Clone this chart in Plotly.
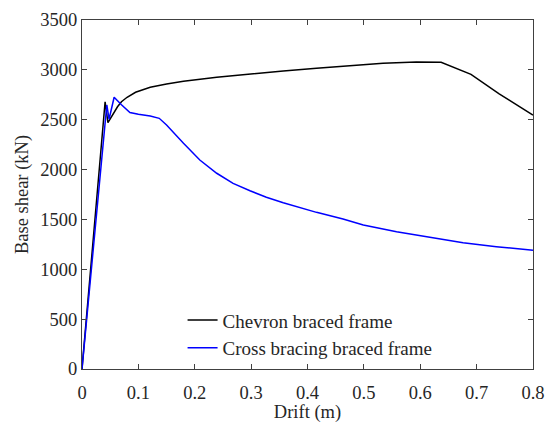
import plotly.graph_objects as go

# Pushover curves: roof drift (m) vs base shear (kN)
chevron_drift = [0.0, 0.041, 0.046, 0.055, 0.063, 0.070, 0.080, 0.095, 0.109, 0.121, 0.150,
                 0.180, 0.239, 0.298, 0.357, 0.416, 0.475, 0.534, 0.593, 0.637, 0.690, 0.740, 0.800]
chevron_shear = [0.0, 2680, 2470, 2560, 2630, 2680, 2725, 2775, 2805, 2825, 2858,
                 2885, 2925, 2959, 2989, 3016, 3042, 3066, 3079, 3076, 2955, 2760, 2547]

cross_drift = [0.0, 0.044, 0.048, 0.057, 0.070, 0.085, 0.100, 0.121, 0.137, 0.150, 0.180,
               0.209, 0.239, 0.268, 0.298, 0.327, 0.357, 0.387, 0.416, 0.463, 0.499,
               0.558, 0.617, 0.676, 0.735, 0.800]
cross_shear = [0.0, 2648, 2505, 2725, 2650, 2573, 2555, 2538, 2514, 2447, 2264,
               2096, 1963, 1862, 1788, 1722, 1668, 1618, 1571, 1504, 1444,
               1377, 1321, 1267, 1227, 1190]

x_ticks = [0, 0.1, 0.2, 0.3, 0.4, 0.5, 0.6, 0.7, 0.8]
y_ticks = [0, 500, 1000, 1500, 2000, 2500, 3000, 3500]

FONT = "Liberation Serif"
AXIS_COLOR = "#404040"
TEXT_COLOR = "#262626"

fig = go.Figure()
fig.add_trace(go.Scatter(x=chevron_drift, y=chevron_shear, mode="lines",
                         name="Chevron braced frame",
                         line=dict(color="black", width=1.5)))
fig.add_trace(go.Scatter(x=cross_drift, y=cross_shear, mode="lines",
                         name="Cross bracing braced frame",
                         line=dict(color="#0000ff", width=1.5)))

axis_common = dict(
    showgrid=False, zeroline=False, showline=True, linecolor=AXIS_COLOR, linewidth=1.2,
    mirror="ticks", ticks="inside", ticklen=5, tickwidth=1, tickcolor=AXIS_COLOR,
    tickfont=dict(family=FONT, size=18.5, color=TEXT_COLOR), automargin=False,
)

fig.update_layout(
    width=547, height=423,
    margin=dict(l=82, r=14, t=20, b=54),
    paper_bgcolor="white", plot_bgcolor="white",
    font=dict(family=FONT, size=18, color=TEXT_COLOR),
    showlegend=True,
    legend=dict(x=0.223, y=0.005, xanchor="left", yanchor="bottom",
                bgcolor="rgba(0,0,0,0)", borderwidth=0,
                font=dict(family=FONT, size=19, color=TEXT_COLOR),
                tracegroupgap=0),
    xaxis=dict(range=[0, 0.8], tickvals=x_ticks,
               ticktext=[f"{v:g}" for v in x_ticks], ticklabelstandoff=7,
               title=dict(text="Drift (m)", font=dict(family=FONT, size=18.5, color=TEXT_COLOR),
                          standoff=2),
               **axis_common),
    yaxis=dict(range=[0, 3500], tickvals=y_ticks,
               ticktext=[str(v) for v in y_ticks],
               title=dict(text="Base shear (kN)", font=dict(family=FONT, size=18.5, color=TEXT_COLOR),
                          standoff=6),
               **axis_common),
)

fig.write_html("out.html")
